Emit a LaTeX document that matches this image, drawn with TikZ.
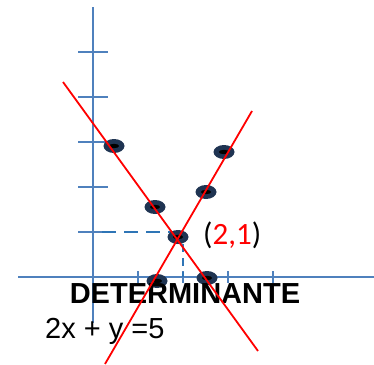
\documentclass[tikz,border=0pt]{standalone}
\usepackage{fontspec}
\setmainfont{Liberation Sans}
\newfontfamily\calfont{Carlito}
\usetikzlibrary{shapes.geometric}
\definecolor{axisblue}{RGB}{79,129,189}
\definecolor{dashblue}{RGB}{46,117,182}
\definecolor{dotnavy}{RGB}{31,52,82}
\definecolor{myred}{RGB}{255,0,0}
\tikzset{
  axisline/.style={draw=axisblue, line width=2.6pt},
  tickline/.style={draw=axisblue, line width=2.4pt},
  guide/.style={draw=dashblue, line width=2pt, dash pattern=on 14pt off 8pt},
  guidev/.style={draw=dashblue, line width=2pt, dash pattern=on 8pt off 6pt},
  redline/.style={draw=myred, line width=1.8pt},
  dotpt/.style={ellipse, fill=dotnavy, minimum width=21pt, minimum height=14pt, inner sep=0pt,
    path picture={\fill[black] (path picture bounding box.center) ellipse (5pt and 2.2pt);}},
}
\begin{document}
\begin{tikzpicture}[x=1pt,y=-1pt]
\useasboundingbox (0,0) rectangle (374,364);
% axes
\coordinate (ytop) at (93,7);
\coordinate (ybot) at (93,323);
\coordinate (xl) at (18,277);
\coordinate (xr) at (374,277);
\draw[axisline] (ytop) -- (ybot);
\draw[axisline] (xl) -- (xr);
\foreach \yy in {52,97,142,187,232} {
  \draw[tickline] (78,\yy) -- (108,\yy);
}
\foreach \xx in {138,183,228,273} {
  \draw[tickline] (\xx,271) -- (\xx,283);
}
% dashed guides
\coordinate (g1) at (102,232);
\coordinate (g2) at (182,232);
\coordinate (g3) at (183,244);
\coordinate (g4) at (183,277);
\draw[guide] (g1) -- (g2);
\draw[guidev] (g3) -- (g4);
% dots
\node[dotpt] (d1) at (114,146) {};
\node[dotpt] (d2) at (155,207) {};
\node[dotpt] (d3) at (178,237) {};
\node[dotpt] (d4) at (206,192) {};
\node[dotpt] (d5) at (224,152) {};
\node[dotpt] (d6) at (157,281) {};
\node[dotpt] (d7) at (207,278) {};
% texts
\node[anchor=base, inner sep=0pt, font=\fontsize{29}{34}\selectfont\bfseries] (det) at (185,303) {DETERMINANTE};
\node[anchor=base west, inner sep=0pt, font=\fontsize{29}{34}\selectfont] (eq) at (45,338) {2x + y =5};
\node[anchor=base west, inner sep=0pt, font=\calfont\fontsize{31}{36}\selectfont] (pt) at (203,244) {(\textcolor{myred}{2,1})};
% red lines
\coordinate (r1a) at (63,82);
\coordinate (r1b) at (258,351);
\coordinate (r2a) at (252,111);
\coordinate (r2b) at (105,364);
\draw[redline] (r1a) -- (r1b);
\draw[redline] (r2a) -- (r2b);
\end{tikzpicture}
\end{document}
